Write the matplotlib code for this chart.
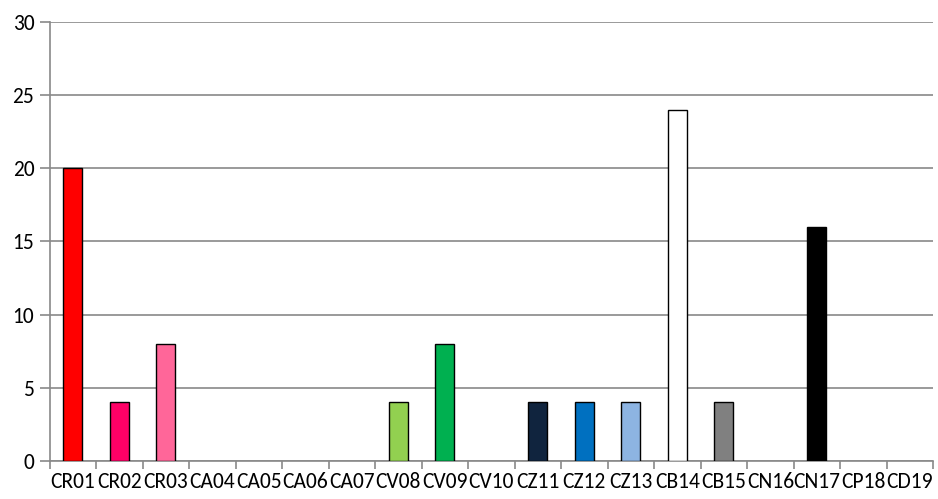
import matplotlib.pyplot as plt
import numpy as np

plt.rcParams['font.family'] = ['Carlito', 'Liberation Sans Narrow', 'DejaVu Sans']

labels = ['CR01', 'CR02', 'CR03', 'CA04', 'CA05', 'CA06', 'CA07', 'CV08', 'CV09', 'CV10',
          'CZ11', 'CZ12', 'CZ13', 'CB14', 'CB15', 'CN16', 'CN17', 'CP18', 'CD19']
values = [20, 4, 8, 0, 0, 0, 0, 4, 8, 0, 4, 4, 4, 24, 4, 0, 16, 0, 0]
colors = ['#FF0000', '#FF0066', '#FF6699', '#FFFFFF', '#FFFFFF', '#FFFFFF', '#FFFFFF',
          '#92D050', '#00B050', '#FFFFFF', '#10243E', '#0070C0', '#8DB4E2', '#FFFFFF',
          '#808080', '#FFFFFF', '#000000', '#FFFFFF', '#FFFFFF']

grid_c = '#898989'

fig = plt.figure(figsize=(9.38, 4.99), dpi=100)
ax = fig.add_axes([0.0528, 0.0762, 0.942, 0.8798])

x = np.arange(len(labels))
for xi, v, c in zip(x, values, colors):
    if v > 0:
        ax.bar(xi, v, width=0.41, color=c, edgecolor='black', linewidth=1, zorder=3)

ax.set_xlim(-0.5, len(labels) - 0.5)
ax.set_ylim(0, 30)
ax.set_yticks(range(0, 31, 5))
ax.yaxis.grid(True, color=grid_c, linewidth=1.2, zorder=0)
ax.set_axisbelow(True)

ax.set_xticks(np.arange(-0.5, len(labels), 1))
ax.set_xticklabels([])
ax.set_xticks(x, minor=True)
ax.set_xticklabels(labels, minor=True, fontsize=15.5)
ax.tick_params(axis='x', which='major', length=6, color=grid_c, width=1.2)
ax.tick_params(axis='x', which='minor', length=0, pad=8)
ax.tick_params(axis='y', length=7, color=grid_c, width=1.2, labelsize=15.5, pad=4)

for s in ['top', 'right']:
    ax.spines[s].set_visible(False)
for s in ['left', 'bottom']:
    ax.spines[s].set_color(grid_c)
    ax.spines[s].set_linewidth(1.2)

fig.savefig('out.png', dpi=100)
